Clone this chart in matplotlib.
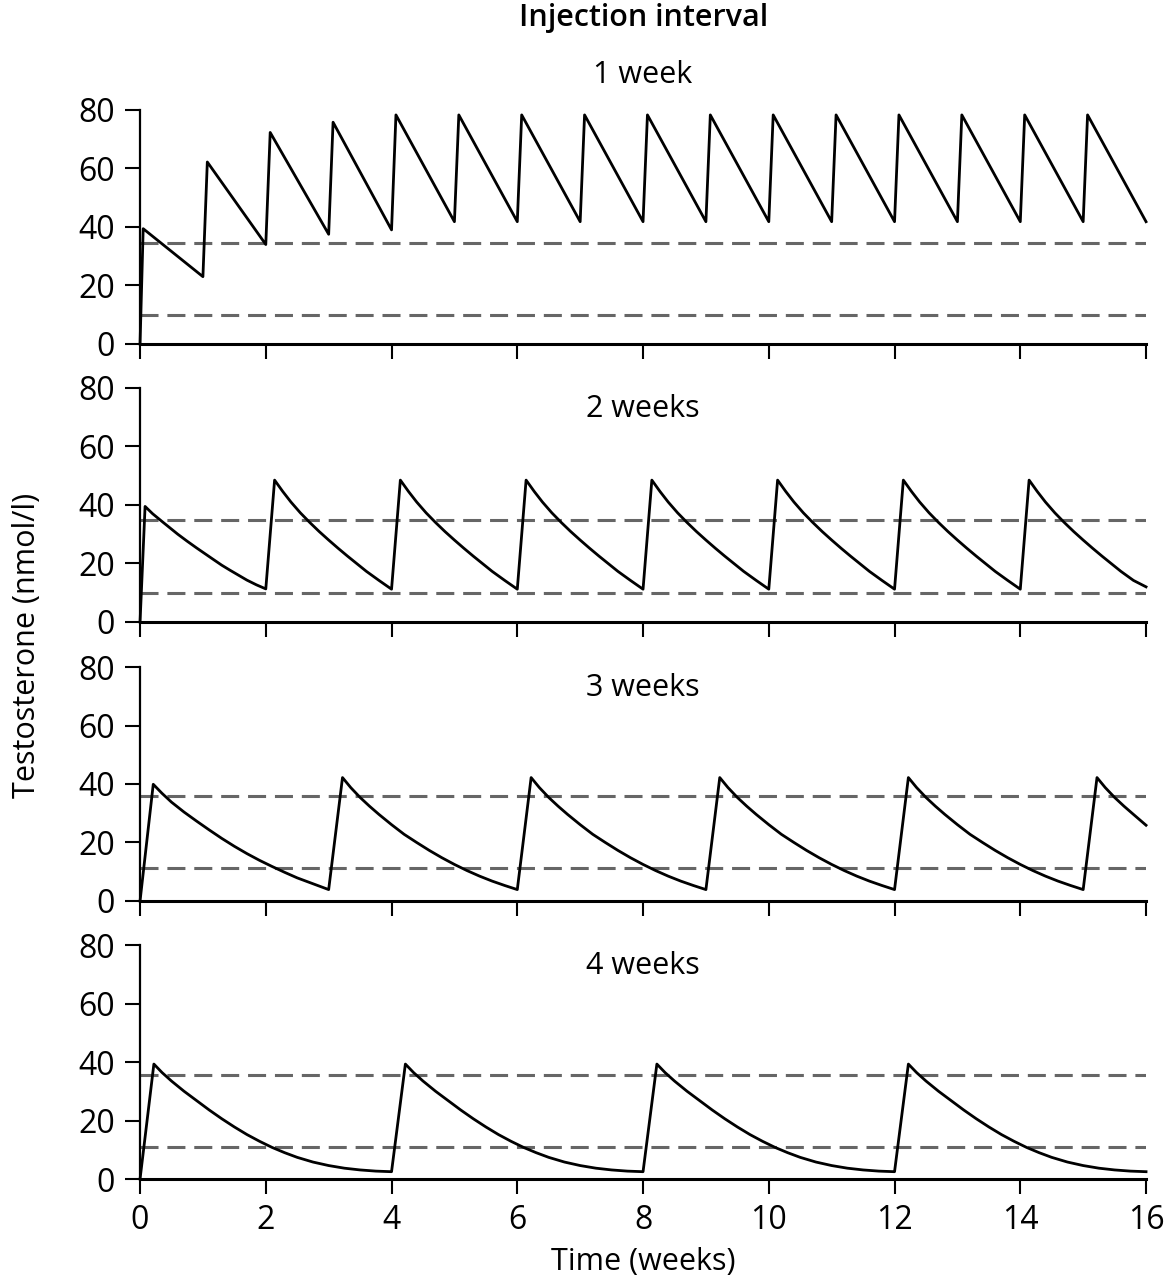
import matplotlib.pyplot as plt

plt.rcParams['font.family'] = ['Open Sans', 'DejaVu Sans']

# --- data (time in weeks, testosterone in nmol/l) ---
# 1 week interval: corner points of the saw-tooth
t_1wk = [0, 0.05, 1, 1.07, 2, 2.07, 3, 3.07, 4,
         4.07, 5, 5.07, 6, 6.07, 7, 7.07, 8, 8.07, 9, 9.07, 10,
         10.07, 11, 11.07, 12, 12.07, 13, 13.07, 14, 14.07, 15, 15.07, 16]
y_1wk = [0, 39.4, 23.0, 62.2, 34.0, 72.3, 37.5, 75.8, 39.0,
         78.3, 41.8, 78.3, 41.8, 78.3, 41.8, 78.3, 41.8, 78.3, 41.8, 78.3, 41.8,
         78.3, 41.8, 78.3, 41.8, 78.3, 41.8, 78.3, 41.8, 78.3, 41.8, 78.3, 41.8]

# 2, 3, 4 week intervals: injection times, first decay, repeated decay
# (offsets in weeks after the injection), value at the end of week 16
inj_2wk = [0, 2, 4, 6, 8, 10, 12, 14]
first_off_2wk = [0, 0.08, 0.2, 0.37, 0.6, 0.75, 0.9, 1.15, 1.3, 1.43, 1.7, 1.85, 2.0]
first_val_2wk = [0, 39.5, 37.0, 34.0, 30.0, 27.6, 25.3, 21.6, 19.4, 17.7, 14.3, 12.7, 11.3]
cyc_off_2wk = [0.14, 0.27, 0.4, 0.55, 0.7, 0.85, 1.0, 1.15, 1.3, 1.45, 1.6, 1.8, 2.0]
cyc_val_2wk = [48.5, 44.6, 41.0, 37.3, 34.0, 30.9, 28.0, 25.2, 22.5, 19.9, 17.3, 14.2, 11.2]
end_2wk = 12.0

inj_3wk = [0, 3, 6, 9, 12, 15]
first_off_3wk = [0, 0.21, 0.35, 0.5, 0.7, 0.9, 1.1, 1.3, 1.5, 1.7, 1.9, 2.1,
                 2.3, 2.5, 2.7, 2.85, 3.0]
first_val_3wk = [0, 39.9, 36.8, 33.8, 30.4, 27.3, 24.3, 21.4, 18.7, 16.2, 13.9, 11.8,
                 9.8, 7.9, 6.3, 5.1, 3.9]
cyc_off_3wk = [0.22, 0.35, 0.5, 0.65, 0.8, 1.0, 1.2, 1.4, 1.6, 1.8, 2.0, 2.2,
               2.4, 2.6, 2.8, 3.0]
cyc_val_3wk = [42.2, 38.8, 35.4, 32.4, 29.6, 26.1, 22.8, 20.0, 17.3, 14.8, 12.5, 10.4,
               8.5, 6.8, 5.3, 3.9]
end_3wk = 25.9

inj_4wk = [0, 4, 8, 12]
cyc_off_4wk = [0.22, 0.35, 0.5, 0.7, 0.9, 1.1, 1.3, 1.5, 1.7, 1.9, 2.1, 2.3, 2.5,
               2.75, 3.0, 3.25, 3.5, 3.75, 4.0]
cyc_val_4wk = [39.3, 36.4, 33.5, 30.0, 26.8, 23.6, 20.6, 17.8, 15.2, 12.9, 10.8, 9.0, 7.4,
               5.8, 4.6, 3.7, 3.1, 2.7, 2.5]
first_off_4wk = [0] + cyc_off_4wk
first_val_4wk = [0] + cyc_val_4wk
end_4wk = 2.5

panel_names = ['1 week', '2 weeks', '3 weeks', '4 weeks']
upper_ref = [34.5, 34.7, 35.8, 35.7]
lower_ref = [10.0, 10.0, 11.2, 11.0]


def build(inj, f_off, f_val, c_off, c_val, end_val, t_max=16):
    t = [inj[0] + o for o in f_off]
    y = list(f_val)
    for start in inj[1:]:
        for o, v in zip(c_off, c_val):
            if start + o < t_max:
                t.append(start + o)
                y.append(v)
    t.append(t_max)
    y.append(end_val)
    return t, y


t_2wk, y_2wk = build(inj_2wk, first_off_2wk, first_val_2wk, cyc_off_2wk, cyc_val_2wk, end_2wk)
t_3wk, y_3wk = build(inj_3wk, first_off_3wk, first_val_3wk, cyc_off_3wk, cyc_val_3wk, end_3wk)
t_4wk, y_4wk = build(inj_4wk, first_off_4wk, first_val_4wk, cyc_off_4wk, cyc_val_4wk, end_4wk)

panel_t = [t_1wk, t_2wk, t_3wk, t_4wk]
panel_y = [y_1wk, y_2wk, y_3wk, y_4wk]

# --- layout ---
fig = plt.figure(figsize=(11.68, 12.8), dpi=100)
bottoms = [0.7313, 0.5141, 0.2961, 0.0789]

for i in range(4):
    ax = fig.add_axes([0.1199, bottoms[i], 0.8613, 0.1828])
    ax.axhline(upper_ref[i], color='#666666', lw=2.2, dashes=(5.9, 2.9))
    ax.axhline(lower_ref[i], color='#666666', lw=2.2, dashes=(5.9, 2.9))
    ax.plot(panel_t[i], panel_y[i], color='black', lw=2.0, clip_on=False)

    ax.set_xlim(0, 16)
    ax.set_ylim(0, 80)
    ax.set_xticks(range(0, 17, 2))
    ax.set_yticks([0, 20, 40, 60, 80])
    for s in ['top', 'right']:
        ax.spines[s].set_visible(False)
    ax.spines['left'].set_linewidth(1.6)
    ax.spines['bottom'].set_linewidth(2.2)
    ax.tick_params(direction='out', length=11, width=1.5, labelsize=23, pad=7)
    if i < 3:
        ax.tick_params(labelbottom=False)

    if i == 0:
        ax.text(8, 92, panel_names[i], ha='center', va='center', fontsize=22,
                clip_on=False)
    else:
        ax.text(8, 72.7, panel_names[i], ha='center', va='center', fontsize=22)

fig.text(0.551, 0.986, 'Injection interval', ha='center', va='center',
         fontsize=22, fontweight='semibold')
fig.text(0.023, 0.496, 'Testosterone (nmol/l)', ha='center', va='center',
         rotation=90, fontsize=22)
fig.text(0.551, 0.002, 'Time (weeks)', ha='center', va='bottom', fontsize=22)

plt.savefig('out.png', dpi=100)
